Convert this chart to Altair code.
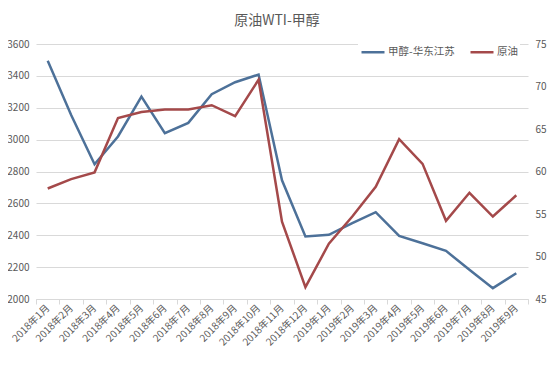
import altair as alt
import pandas as pd

months = [
    "2018年1月", "2018年2月", "2018年3月", "2018年4月", "2018年5月", "2018年6月",
    "2018年7月", "2018年8月", "2018年9月", "2018年10月", "2018年11月", "2018年12月",
    "2019年1月", "2019年2月", "2019年3月", "2019年4月", "2019年5月", "2019年6月",
    "2019年7月", "2019年8月", "2019年9月",
]
methanol = [3495, 3155, 2845, 3020, 3270, 3040, 3105, 3285, 3360, 3408, 2745,
            2392, 2403, 2476, 2545, 2396, 2350, 2302, 2183, 2068, 2162]
crude = [58.0, 59.1, 59.9, 66.3, 67.0, 67.3, 67.3, 67.8, 66.5, 70.8, 54.1,
         46.4, 51.5, 54.7, 58.2, 63.8, 60.9, 54.2, 57.5, 54.7, 57.2]
series_names = ["甲醇-华东江苏", "原油"]
left_ticks = [2000, 2200, 2400, 2600, 2800, 3000, 3200, 3400, 3600]
right_ticks = [45, 50, 55, 60, 65, 70, 75]

df_m = pd.DataFrame({"month": months, "value": methanol, "series": series_names[0]})
df_c = pd.DataFrame({"month": months, "value": crude, "series": series_names[1]})

FONT = "Noto Sans CJK SC"
GRAY = "#595959"
LINEC = "#d9d9d9"

color = alt.Color(
    "series:N",
    scale=alt.Scale(domain=series_names, range=["#4D7199", "#A4494A"]),
    legend=alt.Legend(
        title=None, orient="none", direction="horizontal", legendX=322, legendY=-7,
        symbolType="stroke", symbolSize=529, symbolStrokeWidth=2.5,
        labelFont=FONT, labelFontSize=10.5, labelColor=GRAY, columnPadding=10,
        fillColor="white", padding=2, labelOffset=2,
    ),
)

x = alt.X(
    "month:N", sort=months, bandPosition=0.5,
    scale=alt.Scale(type="band", paddingInner=0, paddingOuter=0),
    axis=alt.Axis(
        title=None, labelAngle=-45, labelAlign="right", labelBaseline="middle",
        labelFont=FONT, labelFontSize=10, labelColor=GRAY, labelPadding=2,
        tickBand="extent", tickSize=5, tickColor=LINEC, domainColor=LINEC,
        grid=False, labelOverlap=False,
    ),
)

left = alt.Chart(df_m).mark_line(strokeWidth=2.5).encode(
    x=x,
    y=alt.Y(
        "value:Q", scale=alt.Scale(domain=[2000, 3600], nice=False, zero=False),
        axis=alt.Axis(
            title=None, values=left_ticks, format="d", grid=True, gridColor=LINEC,
            domain=False, ticks=False, labelFont=FONT, labelFontSize=10,
            labelColor=GRAY, labelPadding=7, orient="left",
        ),
    ),
    color=color,
)

right = alt.Chart(df_c).mark_line(strokeWidth=2.5).encode(
    x=x,
    y=alt.Y(
        "value:Q", scale=alt.Scale(domain=[45, 75], nice=False, zero=False),
        axis=alt.Axis(
            title=None, values=right_ticks, format="d", grid=False, domain=False,
            ticks=False, labelFont=FONT, labelFontSize=10, labelColor=GRAY,
            labelPadding=7, orient="right",
        ),
    ),
    color=color,
)

chart = (
    alt.layer(left, right)
    .resolve_scale(y="independent")
    .properties(
        width=492, height=255,
        autosize=alt.AutoSizeParams(type="none"),
        padding={"left": 28, "top": 36, "right": 20, "bottom": 76},
        title=alt.TitleParams(
            "原油WTI-甲醇", font=FONT, fontSize=14, fontWeight="normal",
            color=GRAY, offset=9, dx=-5,
        ),
    )
    .configure_view(stroke=None)
)

chart.save("out.html", embed_options={"renderer": "svg", "actions": False})
